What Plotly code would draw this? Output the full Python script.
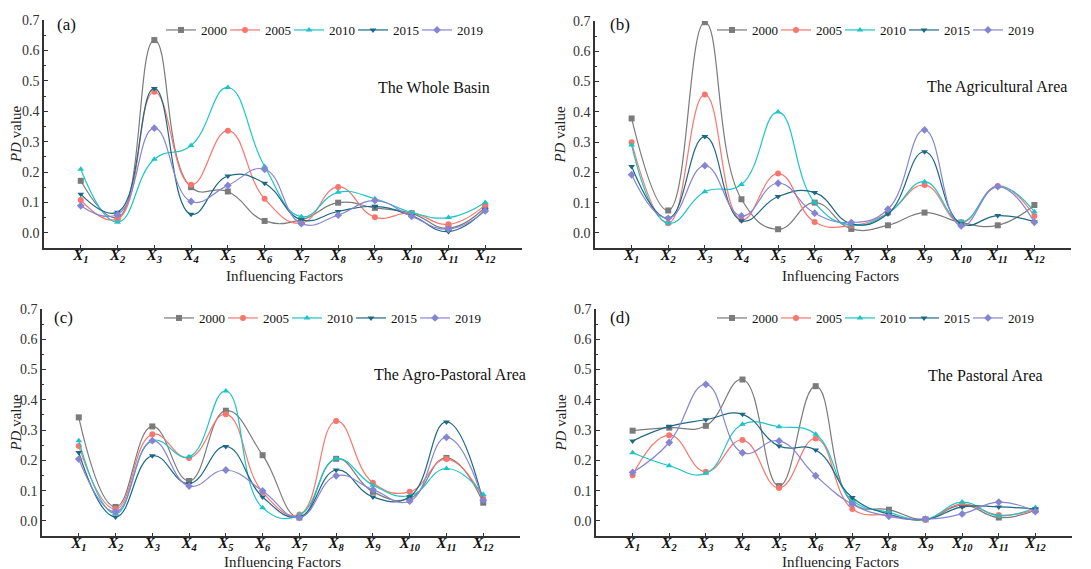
import plotly.graph_objects as go

factors = ["X1", "X2", "X3", "X4", "X5", "X6", "X7", "X8", "X9", "X10", "X11", "X12"]
years = ["2000", "2005", "2010", "2015", "2019"]

# (a) The Whole Basin
basin_2000 = [0.171, 0.050, 0.634, 0.150, 0.136, 0.039, 0.043, 0.099, 0.082, 0.064, 0.015, 0.084]
basin_2005 = [0.108, 0.045, 0.464, 0.158, 0.336, 0.112, 0.032, 0.151, 0.051, 0.065, 0.028, 0.092]
basin_2010 = [0.209, 0.035, 0.242, 0.287, 0.478, 0.218, 0.053, 0.133, 0.112, 0.067, 0.050, 0.100]
basin_2015 = [0.127, 0.068, 0.475, 0.061, 0.187, 0.163, 0.043, 0.070, 0.087, 0.056, 0.004, 0.076]
basin_2019 = [0.089, 0.060, 0.344, 0.103, 0.156, 0.209, 0.030, 0.058, 0.106, 0.054, 0.012, 0.072]

# (b) The Agricultural Area
agri_2000 = [0.378, 0.074, 0.696, 0.111, 0.012, 0.100, 0.013, 0.025, 0.067, 0.034, 0.025, 0.092]
agri_2005 = [0.299, 0.032, 0.457, 0.043, 0.196, 0.036, 0.024, 0.065, 0.158, 0.034, 0.155, 0.056]
agri_2010 = [0.290, 0.032, 0.136, 0.160, 0.399, 0.100, 0.026, 0.064, 0.169, 0.037, 0.153, 0.070]
agri_2015 = [0.219, 0.048, 0.318, 0.040, 0.120, 0.133, 0.030, 0.063, 0.268, 0.030, 0.057, 0.037]
agri_2019 = [0.192, 0.048, 0.222, 0.056, 0.164, 0.065, 0.034, 0.078, 0.340, 0.023, 0.153, 0.035]

# (c) The Agro-Pastoral Area
agro_2000 = [0.342, 0.046, 0.312, 0.132, 0.364, 0.217, 0.011, 0.205, 0.096, 0.074, 0.208, 0.060]
agro_2005 = [0.247, 0.039, 0.286, 0.208, 0.352, 0.095, 0.021, 0.330, 0.126, 0.096, 0.204, 0.074]
agro_2010 = [0.265, 0.024, 0.265, 0.212, 0.429, 0.043, 0.019, 0.205, 0.118, 0.083, 0.173, 0.087]
agro_2015 = [0.226, 0.013, 0.215, 0.123, 0.246, 0.079, 0.013, 0.168, 0.079, 0.080, 0.327, 0.063]
agro_2019 = [0.204, 0.030, 0.265, 0.115, 0.168, 0.099, 0.011, 0.149, 0.103, 0.065, 0.276, 0.068]

# (d) The Pastoral Area
past_2000 = [0.298, 0.308, 0.314, 0.467, 0.115, 0.445, 0.060, 0.037, 0.005, 0.052, 0.011, 0.035]
past_2005 = [0.151, 0.283, 0.162, 0.267, 0.109, 0.272, 0.039, 0.019, 0.004, 0.055, 0.019, 0.037]
past_2010 = [0.225, 0.182, 0.157, 0.319, 0.311, 0.286, 0.068, 0.028, 0.005, 0.062, 0.017, 0.044]
past_2015 = [0.264, 0.312, 0.334, 0.352, 0.247, 0.234, 0.077, 0.022, 0.005, 0.046, 0.046, 0.039]
past_2019 = [0.160, 0.259, 0.451, 0.225, 0.264, 0.149, 0.055, 0.015, 0.006, 0.023, 0.062, 0.031]

panels = [
    ("(a)", "The Whole Basin", [basin_2000, basin_2005, basin_2010, basin_2015, basin_2019]),
    ("(b)", "The Agricultural Area", [agri_2000, agri_2005, agri_2010, agri_2015, agri_2019]),
    ("(c)", "The Agro-Pastoral Area", [agro_2000, agro_2005, agro_2010, agro_2015, agro_2019]),
    ("(d)", "The Pastoral Area", [past_2000, past_2005, past_2010, past_2015, past_2019]),
]

colors = ["#7b7b7b", "#f8766d", "#1cc4c6", "#1d6884", "#8585d2"]
symbols = ["square", "circle", "triangle-up", "triangle-down", "diamond"]

# page has an 8px body margin; the figure fills the rest of the window
OFF = 8
W, H = 1091 - OFF, 569 - OFF
FONT = "Times New Roman, Liberation Serif, serif"


def fx(px):
    return (px - OFF) / W


def fy(py):
    return 1 - (py - OFF) / H


# window-pixel geometry of each panel: (x_left, x_right, y_top(0.7), y_bottom(-0.05))
geo = [
    (44, 522, 20, 248),
    (595, 1071, 21, 248),
    (42, 520, 309, 536),
    (596, 1072, 309, 536),
]
legend_pos = [(161, 30), (712, 30), (159, 318), (712, 318)]
title_pos = [(434, 87), (997, 87), (450, 375), (985, 375)]
label_pos = [(66, 25), (620, 25), (63, 317), (620, 317)]
xtitle_pos = [(284, 276), (840, 276), (282, 562), (840, 562)]

tick_text = ["<b><i>X<sub>%d</sub></i></b>" % (i + 1) for i in range(len(factors))]
tick_vals = list(range(1, len(factors) + 1))

fig = go.Figure()
annotations = []
layout = {}
for p, (lab, title, series) in enumerate(panels):
    ax = "" if p == 0 else str(p + 1)
    lg = "legend" + ("" if p == 0 else str(p + 1))
    xl, xr, yt, yb = geo[p]
    for k, y in enumerate(series):
        fig.add_trace(go.Scatter(
            x=tick_vals, y=y, name=years[k],
            mode="lines+markers",
            line=dict(color=colors[k], width=1.2, shape="spline", smoothing=1.3),
            marker=dict(symbol=symbols[k], size=6, color=colors[k]),
            xaxis="x" + ax, yaxis="y" + ax, legend=lg, showlegend=True,
        ))
    # empty spacer entry so the last legend label is not clipped
    fig.add_trace(go.Scatter(
        x=[None], y=[None], name="", mode="lines", line=dict(width=0, color="white"),
        xaxis="x" + ax, yaxis="y" + ax, legend=lg, showlegend=True, hoverinfo="skip",
    ))
    layout["xaxis" + ax] = dict(
        domain=[fx(xl), fx(xr)], range=[0, 13], anchor="y" + ax,
        tickvals=tick_vals, ticktext=tick_text, automargin=False,
        ticks="inside", ticklen=3, tickcolor="#333", tickwidth=1,
        showline=True, linecolor="#333", linewidth=1.5, mirror=False,
        showgrid=False, zeroline=False, ticklabelstandoff=-8,
        tickfont=dict(family=FONT, size=15, color="#111"),
    )
    layout["yaxis" + ax] = dict(
        domain=[fy(yb), fy(yt)], range=[-0.05, 0.7], anchor="x" + ax,
        tickvals=[0, 0.1, 0.2, 0.3, 0.4, 0.5, 0.6, 0.7], tickformat=".1f", automargin=False,
        ticks="inside", ticklen=4, tickcolor="#333", tickwidth=1,
        minor=dict(tickvals=[0.05, 0.15, 0.25, 0.35, 0.45, 0.55, 0.65], ticks="inside", ticklen=2, tickcolor="#333"),
        showline=True, linecolor="#333", linewidth=1.5,
        showgrid=False, zeroline=False,
        tickfont=dict(family=FONT, size=14, color="#333"),
        title=dict(text="<i>PD</i> value", font=dict(family=FONT, size=15, color="#222"), standoff=4),
    )
    lx, ly = legend_pos[p]
    layout[lg] = dict(
        orientation="h", x=fx(lx), y=fy(ly), xanchor="left", yanchor="middle",
        font=dict(family=FONT, size=13, color="#111"), bgcolor="rgba(0,0,0,0)",
        itemwidth=30, tracegroupgap=0, entrywidth=19, entrywidthmode="pixels",
    )
    tx, ty = title_pos[p]
    annotations.append(dict(text=title, x=fx(tx), y=fy(ty), xref="paper", yref="paper",
                            showarrow=False, font=dict(family=FONT, size=16, color="#111"),
                            xanchor="center", yanchor="middle"))
    ax_, ay_ = label_pos[p]
    annotations.append(dict(text=lab, x=fx(ax_), y=fy(ay_), xref="paper", yref="paper",
                            showarrow=False, font=dict(family=FONT, size=17, color="#111"),
                            xanchor="center", yanchor="middle"))
    gx, gy = xtitle_pos[p]
    annotations.append(dict(text="Influencing Factors", x=fx(gx), y=fy(gy), xref="paper", yref="paper",
                            showarrow=False, font=dict(family=FONT, size=15, color="#222"),
                            xanchor="center", yanchor="middle"))

fig.update_layout(
    width=W, height=H, margin=dict(l=0, r=0, t=0, b=0, autoexpand=False),
    paper_bgcolor="white", plot_bgcolor="white",
    font=dict(family=FONT),
    annotations=annotations, **layout,
)
fig.write_html("out.html")
